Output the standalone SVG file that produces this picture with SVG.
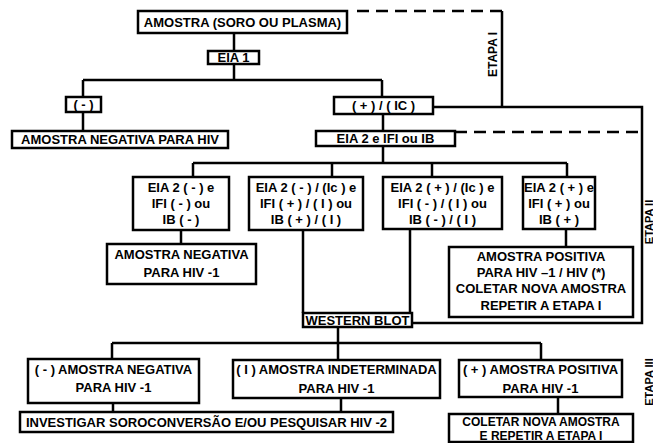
<svg xmlns="http://www.w3.org/2000/svg" width="653" height="443" viewBox="0 0 653 443">
<style>
.box{fill:#fff;stroke:#000;stroke-width:2.5}
.t{font-family:"Liberation Sans",Arial,sans-serif;font-weight:bold;font-size:13px;text-anchor:middle;fill:#000}
.s{font-size:12px}
.c{fill:none;stroke:#000;stroke-width:2.5}
.d{fill:none;stroke:#000;stroke-width:2.5;stroke-dasharray:12 7}
.lbl{font-family:"Liberation Sans",Arial,sans-serif;font-weight:bold;font-size:12px;text-anchor:middle;fill:#000}
.edge{font-size:11px}
</style>
<rect width="653" height="443" fill="#fff"/>
<g id="connectors">
<path class="c" d="M234 33V51M234 64V80M83 80H382M83 80V97M83 112V131M382 80V97M383 114V131M383 146V163M193 163H567M193 163V177M332 163V177M432 163V177M567 163V177M181 230V244M303 230V313M410 229V313M566 229V247M433 107H642V323H412M502 11V107M338 327V360M112 343H541M112 343V359M541 343V360M113 403V412M341 398V412M558 397V415"/>
<path class="d" d="M357 11H502M455 132H642"/>
</g>
<g id="labels">
<text class="lbl" transform="translate(497 54.5) rotate(-90)" textLength="45">ETAPA I</text>
<text class="lbl edge" transform="translate(652.5 222) rotate(-90)">ETAPA II</text>
<text class="lbl edge" transform="translate(652.5 382) rotate(-90)">ETAPA III</text>
</g>
<g id="amostra"><rect class="box" x="138" y="11" width="209" height="22"/><text class="t" x="242.5" y="27">AMOSTRA (SORO OU PLASMA)</text></g>
<g id="eia1"><rect class="box" x="208" y="51" width="51" height="13"/><text class="t" x="233.5" y="62">EIA 1</text></g>
<g id="neg"><rect class="box" x="66" y="97" width="35" height="15"/><text class="t" x="83.5" y="109">( - )</text></g>
<g id="negHIV"><rect class="box" x="12" y="131" width="216" height="17"/><text class="t" x="120" y="144">AMOSTRA NEGATIVA PARA HIV</text></g>
<g id="posIC"><rect class="box" x="334" y="97" width="99" height="17"/><text class="t" x="383.5" y="110">( + ) / ( IC )</text></g>
<g id="eia2"><rect class="box" x="316" y="131" width="139" height="15"/><text class="t" x="385.5" y="143">EIA 2 e IFI ou IB</text></g>
<g id="r1"><rect class="box" x="133" y="177" width="96" height="53"/><text class="t" x="181" y="192">EIA 2 ( - ) e</text><text class="t" x="181" y="208">IFI ( - ) ou</text><text class="t" x="181" y="224">IB ( - )</text></g>
<g id="r2"><rect class="box" x="249" y="177" width="114" height="53"/><text class="t" x="306" y="192">EIA 2 ( - ) / (Ic ) e</text><text class="t" x="306" y="208">IFI ( + ) / ( I ) ou</text><text class="t" x="306" y="224">IB ( + ) / ( I )</text></g>
<g id="r3"><rect class="box" x="383" y="177" width="119" height="52"/><text class="t" x="442.5" y="192">EIA 2 ( + ) / (Ic ) e</text><text class="t" x="442.5" y="208">IFI ( - ) / ( I ) ou</text><text class="t" x="442.5" y="224">IB ( - ) / ( I )</text></g>
<g id="r4"><rect class="box" x="523" y="177" width="72" height="52"/><text class="t" x="559" y="192">EIA 2 ( + ) e</text><text class="t" x="559" y="208">IFI ( + ) ou</text><text class="t" x="559" y="224">IB ( + )</text></g>
<g id="neg1"><rect class="box" x="107" y="244" width="149" height="40"/><text class="t" x="181.5" y="259">AMOSTRA NEGATIVA</text><text class="t" x="181.5" y="277">PARA HIV -1</text></g>
<g id="pos1"><rect class="box" x="449" y="247" width="184" height="70"/><text class="t" x="541" y="261">AMOSTRA POSITIVA</text><text class="t" x="541" y="277">PARA HIV –1 / HIV (*)</text><text class="t" x="541" y="293">COLETAR NOVA AMOSTRA</text><text class="t" x="541" y="310">REPETIR A ETAPA I</text></g>
<g id="wb"><rect class="box" x="303" y="313" width="109" height="14"/><text class="t" x="357.5" y="325">WESTERN BLOT</text></g>
<g id="wbneg"><rect class="box" x="28" y="359" width="171" height="44"/><text class="t" x="113.5" y="374">( - ) AMOSTRA NEGATIVA</text><text class="t" x="113.5" y="392">PARA HIV -1</text></g>
<g id="wbind"><rect class="box" x="233" y="360" width="207" height="38"/><text class="t" x="336.5" y="374">( I ) AMOSTRA INDETERMINADA</text><text class="t" x="336.5" y="393">PARA HIV -1</text></g>
<g id="wbpos"><rect class="box" x="459" y="360" width="163" height="37"/><text class="t" x="540.5" y="374">( + ) AMOSTRA POSITIVA</text><text class="t" x="540.5" y="393">PARA HIV -1</text></g>
<g id="invest"><rect class="box" x="20" y="412" width="373" height="20"/><text class="t" x="206.5" y="427">INVESTIGAR SOROCONVERSÃO E/OU PESQUISAR HIV -2</text></g>
<g id="coletar"><rect class="box" x="449" y="414" width="184" height="28"/><text class="t s" x="541" y="425.5">COLETAR NOVA AMOSTRA</text><text class="t s" x="541" y="439.5">E REPETIR A ETAPA I</text></g>
</svg>
